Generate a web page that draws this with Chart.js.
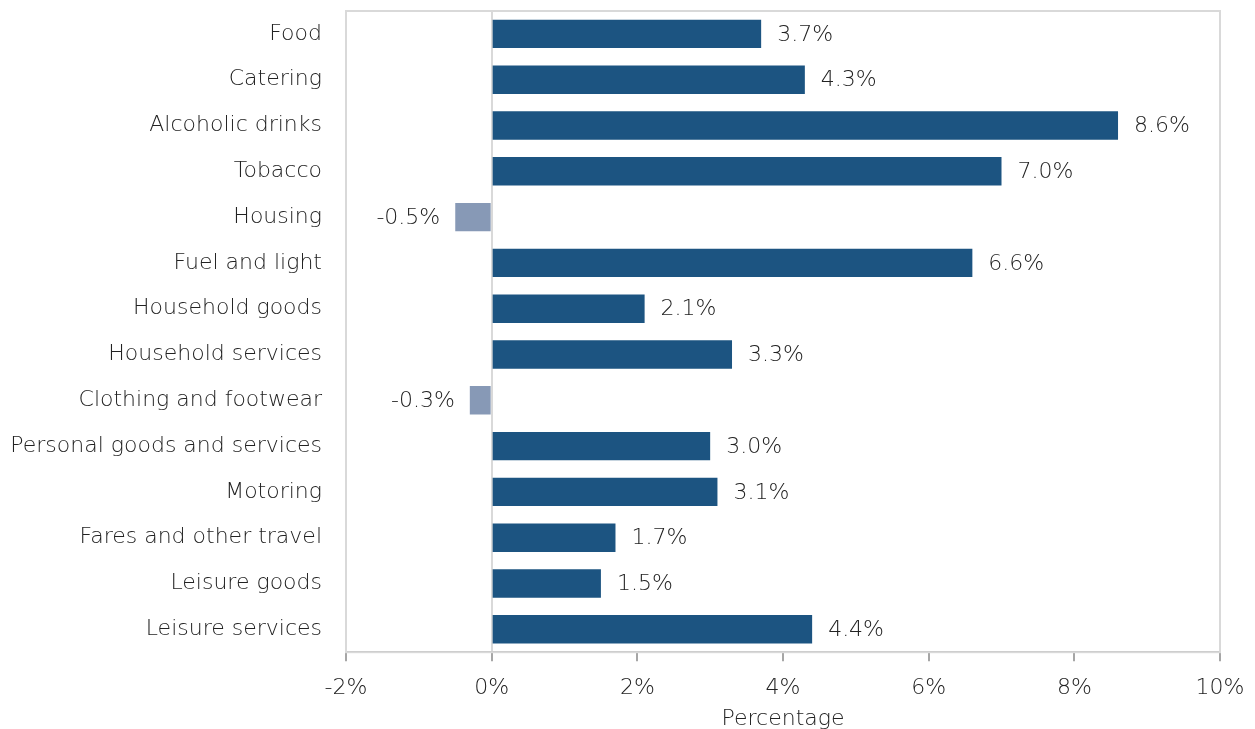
<!DOCTYPE html>
<html>
<head>
<meta charset="utf-8">
<script src="https://cdn.jsdelivr.net/npm/chart.js@4"></script>
<style>
  html, body { margin: 0; padding: 0; background: #fff; }
</style>
</head>
<body>
<canvas id="chart" width="1255" height="729"></canvas>
<script>
const categories = ['Food', 'Catering', 'Alcoholic drinks', 'Tobacco', 'Housing', 'Fuel and light',
    'Household goods', 'Household services', 'Clothing and footwear', 'Personal goods and services',
    'Motoring', 'Fares and other travel', 'Leisure goods', 'Leisure services'];
const values = [3.7, 4.3, 8.6, 7.0, -0.5, 6.6, 2.1, 3.3, -0.3, 3.0, 3.1, 1.7, 1.5, 4.4];
const xTicks = [-2, 0, 2, 4, 6, 8, 10];

const FONT = "'DejaVu Sans', sans-serif";
const WEIGHT = '200';
const TEXT = '#222222';

// box round the plot area, drawn under the bars
const frame = {
    id: 'frame',
    beforeDatasetsDraw(chart) {
        const { ctx, chartArea: a } = chart;
        ctx.save();
        ctx.strokeStyle = '#d9d9d9';
        ctx.lineWidth = 2;
        ctx.strokeRect(a.left, a.top, a.right - a.left, a.bottom - a.top);
        ctx.restore();
    }
};

// value labels at the bar ends
const barLabels = {
    id: 'barLabels',
    afterDatasetsDraw(chart) {
        const { ctx } = chart;
        const meta = chart.getDatasetMeta(0);
        ctx.save();
        ctx.font = WEIGHT + ' 22px ' + FONT;
        ctx.fillStyle = TEXT;
        ctx.textBaseline = 'middle';
        meta.data.forEach((bar, i) => {
            const v = values[i];
            const txt = v.toFixed(1) + '%';
            if (v >= 0) {
                ctx.textAlign = 'left';
                ctx.fillText(txt, bar.x + 16, bar.y + 1);
            } else {
                ctx.textAlign = 'right';
                ctx.fillText(txt, bar.x - 15, bar.y + 1);
            }
        });
        ctx.restore();
    }
};

new Chart(document.getElementById('chart'), {
    type: 'bar',
    data: {
        labels: categories,
        datasets: [{
            data: values,
            backgroundColor: values.map(v => v < 0 ? '#8799b6' : '#1c5481'),
            categoryPercentage: 1,
            barPercentage: 0.62
        }]
    },
    options: {
        indexAxis: 'y',
        responsive: false,
        animation: false,
        layout: { padding: { top: 11, right: 35, left: 0, bottom: -3 } },
        plugins: { legend: { display: false }, tooltip: { enabled: false } },
        scales: {
            x: {
                min: -2,
                max: 10,
                afterBuildTicks(axis) { axis.ticks = xTicks.map(v => ({ value: v })); },
                afterFit(axis) {
                    axis.paddingLeft = 0;
                    axis.paddingRight = 0;
                },
                ticks: {
                    callback: v => v + '%',
                    color: TEXT,
                    font: { family: FONT, size: 22, weight: WEIGHT },
                    padding: 14,
                    maxRotation: 0
                },
                grid: {
                    color: c => (c.tick && c.tick.value === 0) ? '#d9d9d9' : 'rgba(0,0,0,0)',
                    lineWidth: 2,
                    drawTicks: true,
                    tickLength: 9,
                    tickColor: '#a6a6a6',
                    tickWidth: 2
                },
                border: { color: '#a6a6a6', width: 2 },
                title: {
                    display: true,
                    text: 'Percentage',
                    color: TEXT,
                    font: { family: FONT, size: 22, weight: WEIGHT },
                    padding: { top: -10, bottom: 0 }
                }
            },
            y: {
                afterFit(axis) {
                    axis.width = 346;
                    axis.paddingTop = 0;
                    axis.paddingBottom = 0;
                },
                ticks: {
                    color: TEXT,
                    font: { family: FONT, size: 22, weight: WEIGHT },
                    padding: 16
                },
                grid: { display: false },
                border: { display: false }
            }
        }
    },
    plugins: [frame, barLabels]
});
</script>
</body>
</html>
